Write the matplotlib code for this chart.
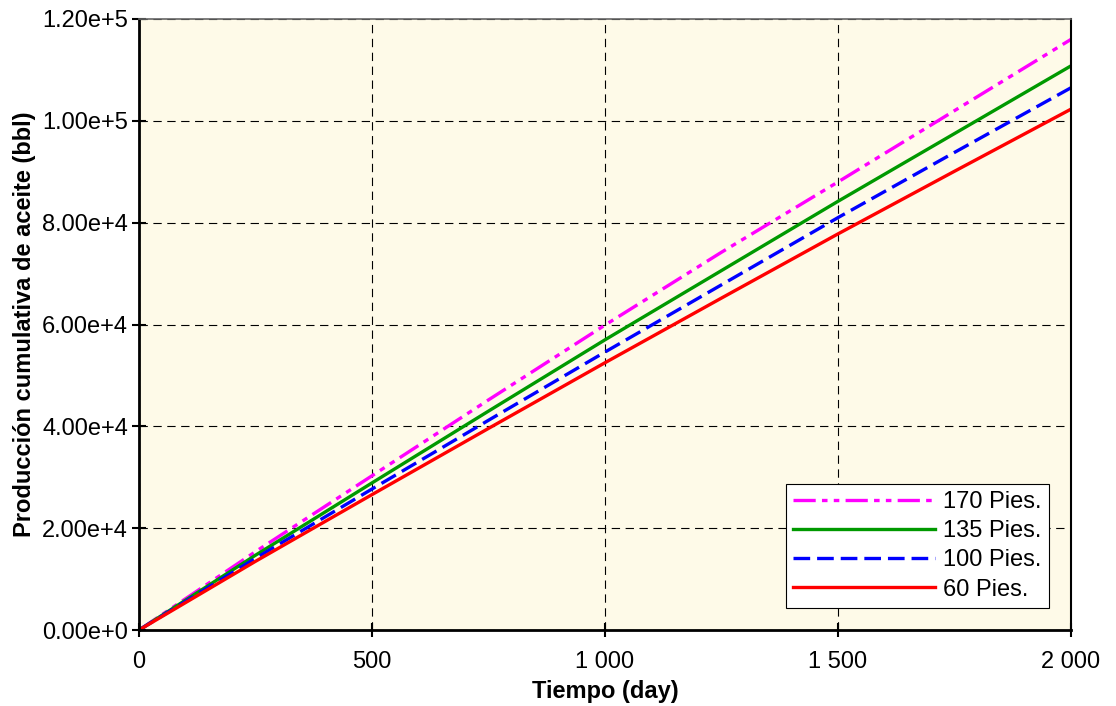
import matplotlib
matplotlib.use("Agg")
import matplotlib.pyplot as plt
from matplotlib.ticker import FuncFormatter, MultipleLocator

plt.rcParams['font.family'] = ['Liberation Sans', 'DejaVu Sans']
plt.rcParams['lines.scale_dashes'] = False

# datos
tiempo = [0, 250, 500, 750, 1000, 1250, 1500, 1750, 2000]
p170 = [0, 15400, 30300, 45200, 59900, 74200, 88000, 102000, 116000]
p135 = [0, 14700, 28900, 43000, 57000, 70600, 84200, 97500, 110800]
p100 = [0, 14100, 27700, 41200, 54600, 67800, 81000, 93800, 106500]
p60 = [0, 13500, 26600, 39600, 52500, 65200, 77800, 90100, 102300]

fig = plt.figure(figsize=(11.16, 7.06), dpi=100)
ax = fig.add_axes([0.1246, 0.1076, 0.8351, 0.8655])
ax.set_facecolor('#fefae8')

ax.plot(tiempo, p170, color='#ff00ff', lw=2.4, linestyle=(0, (16, 4.5, 4, 4.5, 4, 4.5)), label='170 Pies.')
ax.plot(tiempo, p135, color='#009900', lw=2.4, label='135 Pies.')
ax.plot(tiempo, p100, color='#0000ff', lw=2.4, linestyle=(0, (12, 5)), label='100 Pies.')
ax.plot(tiempo, p60, color='#ff0000', lw=2.4, label='60 Pies.')

ax.set_xlim(0, 2000)
ax.set_ylim(0, 120000)
ax.xaxis.set_major_locator(MultipleLocator(500))
ax.yaxis.set_major_locator(MultipleLocator(20000))


def fmt_x(v, pos):
    return '{:,.0f}'.format(v).replace(',', ' ')


def fmt_y(v, pos):
    m, e = '{:.2e}'.format(v).split('e')
    return '{}e{}{}'.format(m, '+' if int(e) >= 0 else '-', abs(int(e)))


ax.xaxis.set_major_formatter(FuncFormatter(fmt_x))
ax.yaxis.set_major_formatter(FuncFormatter(fmt_y))

ax.grid(True, color='black', linestyle=(0, (6, 4)), linewidth=0.8)
ax.tick_params(direction='inout', length=10, width=1.5, labelsize=17, colors='black')
ax.tick_params(axis='x', pad=10)
ax.tick_params(axis='y', pad=3)

for s in ['left', 'bottom']:
    ax.spines[s].set_linewidth(2)
ax.spines['top'].set_color('#666666')
ax.spines['top'].set_linewidth(1.2)
ax.spines['right'].set_linewidth(1.5)

ax.set_xlabel('Tiempo (day)', fontsize=17, fontweight='bold', labelpad=5)
ax.set_ylabel('Producción cumulativa de aceite (bbl)', fontsize=17, fontweight='bold', labelpad=4)

leg = ax.legend(loc='lower right', fontsize=17, fancybox=False, framealpha=1,
                edgecolor='black', handlelength=6.0, handletextpad=0.35,
                labelspacing=0.3, borderpad=0.3, borderaxespad=0.95)
leg.get_frame().set_linewidth(0.8)

fig.savefig('out.png', dpi=100)
